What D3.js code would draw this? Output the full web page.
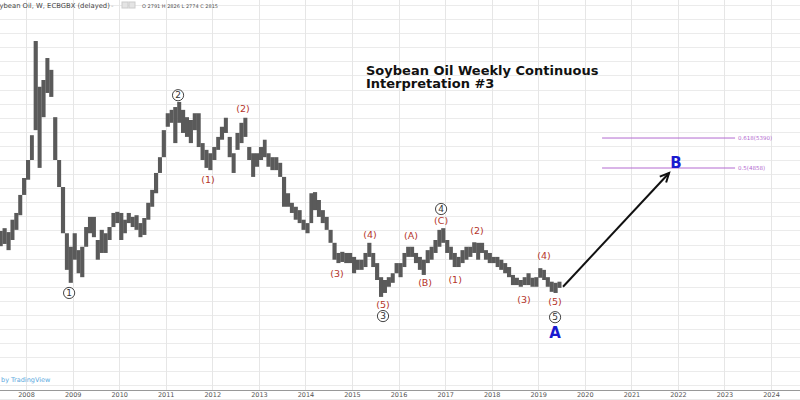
<!DOCTYPE html>
<html>
<head>
<meta charset="utf-8">
<script src="https://cdn.jsdelivr.net/npm/d3@7/dist/d3.min.js"></script>
<style>
html,body{margin:0;padding:0;background:#fff;}
svg{display:block;font-family:"DejaVu Sans",Verdana,sans-serif;}
</style>
</head>
<body>
<svg id="chart" width="800" height="400"></svg>
<script>
// ---- data (monthly ranges, ECBGBX price units) ----
const startYear = 2007, startMonth = 5; // June 2007
const highs = [3740,3790,3720,3940,4060,4380,4680,5000,5440,7112,6300,6420,6810,6600,5760,5000,4520,3700,3460,3700,
3400,3460,3810,3990,3990,3580,3760,3700,3810,4060,4080,4060,3940,4060,3990,4020,3880,3970,4240,4470,
4770,5050,5530,5830,5890,5940,6030,5890,5760,5710,5830,5830,5300,5180,5120,5230,5410,5590,5750,5410,
5120,5480,5660,5750,5230,5120,5120,5230,5360,5120,5050,5050,4950,4700,4410,4240,4170,4110,3940,3880,
4410,4430,4290,4110,3990,3760,3530,3350,3370,3350,3350,3280,3230,3230,3350,3530,3350,3170,2920,2870,
2920,2990,3170,3170,3350,3460,3460,3350,3280,3230,3400,3460,3580,3760,3790,3580,3460,3350,3280,3400,
3460,3460,3540,3530,3530,3400,3350,3280,3280,3230,3170,3100,2960,2910,2870,2920,2990,2910,2920,3080,
3050,2920,2840,2820,2840];
const lows = [3470,3510,3400,3580,3760,4020,4380,4650,5000,5530,4860,5760,6190,6120,5000,4520,3700,3050,2820,3230,
2990,2920,3460,3700,3630,3230,3350,3350,3580,3810,3880,3580,3700,3880,3810,3760,3630,3670,3940,4170,
4410,4770,5050,5590,5660,5300,5660,5480,5410,5300,5530,5230,5000,4860,4820,5000,5180,5360,5480,5050,
4770,5180,5300,5410,5000,4700,4880,5000,5050,4880,4820,4820,4700,4170,4170,4060,3940,3880,3760,3700,
3880,4110,3990,3880,3760,3530,3230,3170,3190,3170,3170,2990,3050,3050,3100,3280,3100,2870,2570,2640,
2750,2820,2990,2920,3100,3280,3280,3170,3050,2960,3170,3230,3350,3460,3530,3350,3230,3100,3100,3170,
3230,3280,3350,3230,3350,3230,3170,3170,3100,3050,2990,2920,2780,2780,2750,2780,2780,2750,2750,2910,
2870,2750,2660,2640,2730];
const yearTicks = [2008,2009,2010,2011,2012,2013,2014,2015,2016,2017,2018,2019,2020,2021,2022,2023,2024];
const gridPrices = d3.range(750, 7800, 250);

// circled wave labels: [text, year, price]
const circled = [["1",2008.924,2640],["2",2011.265,6150],["3",2015.667,2230],["4",2016.913,4130],["5",2019.362,2210]];
// red sub-wave labels
const subLabels = [["(1)",2011.909,4660],["(2)",2012.661,5920],["(3)",2014.680,2990],["(4)",2015.388,3670],
["(5)",2015.667,2430],["(A)",2016.269,3650],["(B)",2016.570,2830],["(C)",2016.913,3920],["(1)",2017.214,2870],
["(2)",2017.686,3740],["(3)",2018.696,2530],["(4)",2019.125,3310],["(5)",2019.362,2480]];
// big blue labels
const bigLabels = [["A",2019.362,1930],["B",2021.960,4950]];
// projection arrow [year, price]
const arrowPts = [[2019.533,2750],[2021.810,4770]];
// fib levels
const fibLevels = [["0.618(5390)",5390],["0.5(4858)",4858]];
const fibSpan = [2020.371,2023.228];

// ---- scales ----
const yd = v => { const yr = Math.floor(v); const start = new Date(yr,0,1), end = new Date(yr+1,0,1); return new Date(+start + (v-yr)*(end-start)); };
const x = d3.scaleTime().domain([new Date(2008,0,1), new Date(2024,0,1)]).range([26, 771]);
const y = d3.scaleLinear().domain([740, 7840]).range([400, 0]);
const svg = d3.select("#chart");
const plotBottom = 390;

// grid
svg.append("g").selectAll("line").data(gridPrices).join("line")
  .attr("x1",0).attr("x2",800).attr("y1",d=>Math.round(y(d))+0.5).attr("y2",d=>Math.round(y(d))+0.5)
  .attr("stroke","#ebebeb").attr("stroke-width",1);
svg.append("g").selectAll("line").data(yearTicks).join("line")
  .attr("x1",d=>Math.round(x(new Date(d,0,1)))+0.5).attr("x2",d=>Math.round(x(new Date(d,0,1)))+0.5)
  .attr("y1",0).attr("y2",plotBottom).attr("stroke","#e6e6e6").attr("stroke-width",1);

// time axis
const axis = d3.axisBottom(x).tickValues(yearTicks.map(d=>new Date(d,0,1))).tickFormat(d3.timeFormat("%Y")).tickSize(0).tickPadding(2);
const ax = svg.append("g").attr("transform",`translate(0,${plotBottom})`).call(axis);
ax.select(".domain").attr("stroke","#999").attr("d","M0,0.5H800");
ax.selectAll("text").attr("font-size",6.5).attr("fill","#555").attr("font-family","DejaVu Sans");

// price bars (contiguous monthly ranges)
const bars = highs.map((h,i)=>({date:new Date(startYear, startMonth+i, 1), end:new Date(startYear, startMonth+i+1, 1), high:h, low:lows[i]}));
svg.append("g").selectAll("rect").data(bars).join("rect")
  .attr("x",d=>x(d.date)).attr("width",d=>x(d.end)-x(d.date)+0.2)
  .attr("y",d=>y(d.high)).attr("height",d=>Math.max(1,y(d.low)-y(d.high)))
  .attr("fill","#5a5a5a");

// fib lines
const fib = svg.append("g");
fib.selectAll("line").data(fibLevels).join("line")
  .attr("x1",x(yd(fibSpan[0]))).attr("x2",x(yd(fibSpan[1])))
  .attr("y1",d=>y(d[1])).attr("y2",d=>y(d[1]))
  .attr("stroke","#b36ad0").attr("stroke-width",1);
fib.selectAll("text").data(fibLevels).join("text")
  .attr("x",x(yd(fibSpan[1]))+3).attr("y",d=>y(d[1])).attr("dy","0.35em")
  .attr("font-size",5.5).attr("fill","#b36ad0").text(d=>d[0]);

// arrow
const a0 = [x(yd(arrowPts[0][0])), y(arrowPts[0][1])], a1 = [x(yd(arrowPts[1][0])), y(arrowPts[1][1])];
svg.append("line").attr("x1",a0[0]).attr("y1",a0[1]).attr("x2",a1[0]).attr("y2",a1[1])
  .attr("stroke","#111").attr("stroke-width",2);
const ang = Math.atan2(a1[1]-a0[1], a1[0]-a0[0]);
const hl = 10, spread = 0.45;
svg.append("path")
  .attr("d",`M${a1[0]-hl*Math.cos(ang-spread)},${a1[1]-hl*Math.sin(ang-spread)}L${a1[0]},${a1[1]}L${a1[0]-hl*Math.cos(ang+spread)},${a1[1]-hl*Math.sin(ang+spread)}`)
  .attr("fill","none").attr("stroke","#111").attr("stroke-width",2);

// circled labels
const cg = svg.append("g").selectAll("g").data(circled).join("g")
  .attr("transform",d=>`translate(${x(yd(d[1]))},${y(d[2])})`);
cg.append("circle").attr("r",5.6).attr("fill","#fff").attr("stroke","#444").attr("stroke-width",1);
cg.append("text").attr("text-anchor","middle").attr("dy","0.36em").attr("font-size",9).attr("fill","#333").text(d=>d[0]);

// red labels
svg.append("g").selectAll("text").data(subLabels).join("text")
  .attr("x",d=>x(yd(d[1]))).attr("y",d=>y(d[2])).attr("dy","0.36em")
  .attr("text-anchor","middle").attr("font-size",9.5).attr("fill","#b5352a").text(d=>d[0]);

// big blue labels
svg.append("g").selectAll("text").data(bigLabels).join("text")
  .attr("x",d=>x(yd(d[1]))).attr("y",d=>y(d[2])).attr("dy","0.36em")
  .attr("text-anchor","middle").attr("font-size",15).attr("font-weight","bold").attr("fill","#1a1acf").text(d=>d[0]);

// title
const title = svg.append("text").attr("font-size",13).attr("font-weight","bold").attr("fill","#111");
title.append("tspan").attr("x",366).attr("y",75).text("Soybean Oil Weekly Continuous");
title.append("tspan").attr("x",366).attr("y",88).text("Interpretation #3");

// header
svg.append("text").attr("x",-9).attr("y",8).attr("font-size",6.8).attr("fill","#444")
  .text("Soybean Oil, W, ECBGBX (delayed)");
svg.append("text").attr("x",111).attr("y",8).attr("font-size",6.8).attr("fill","#aaa").text("-");
svg.append("rect").attr("x",122).attr("y",2).attr("width",6).attr("height",6).attr("fill","#e4e4e4").attr("stroke","#ccc");
svg.append("rect").attr("x",129).attr("y",2).attr("width",6).attr("height",6).attr("fill","#e4e4e4").attr("stroke","#ccc");
svg.append("text").attr("x",142).attr("y",7.5).attr("font-size",5).attr("fill","#555")
  .text("O 2791  H 2826  L 2774  C 2815");

// watermark
svg.append("text").attr("x",1).attr("y",381.5).attr("font-size",6.5).attr("fill","#5aa9de").text("by TradingView");
</script>
</body>
</html>
